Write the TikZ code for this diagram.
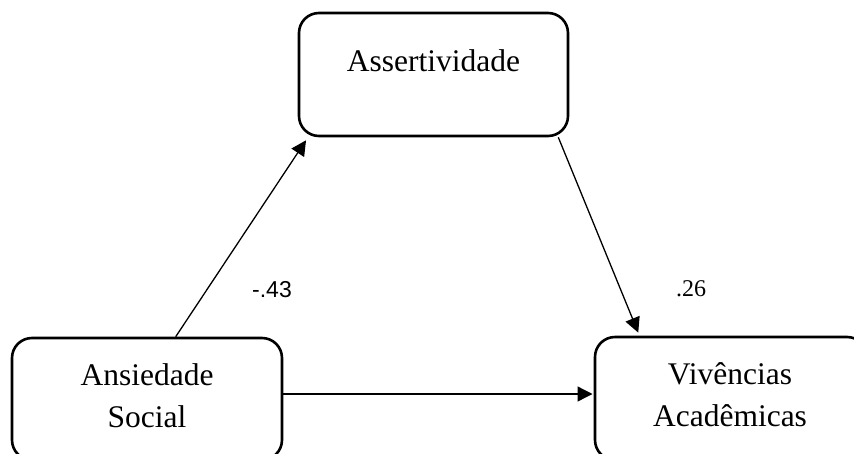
\documentclass[tikz,border=0pt]{standalone}
\usepackage{fontspec}
\setmainfont{Liberation Serif}
\newfontfamily\lblsans{Liberation Sans}
\usetikzlibrary{arrows.meta,calc}
\begin{document}
\begin{tikzpicture}[x=1pt,y=-1pt,
  box/.style={draw,line width=2.6pt,rounded corners=20pt,inner sep=0pt},
  boxtext/.style={font=\fontsize{31.5}{42}\selectfont,align=center,inner sep=0pt},
  conn/.style={line width=1.3pt,-{Triangle[length=15pt,width=15pt]},shorten >=1.2pt},
  coefsans/.style={font=\lblsans\fontsize{23}{28}\selectfont,inner sep=0pt,anchor=base},
  coefserif/.style={font=\fontsize{24}{29}\selectfont,inner sep=0pt,anchor=base}]
\useasboundingbox (0,0) rectangle (854,453);
\begin{scope}
\clip (0,0) rectangle (854,453);
\node[box,minimum width=269pt,minimum height=123pt] (asr) at (433.5,74.5) {};
\node[box,minimum width=270pt,minimum height=122pt] (ans) at (147,399) {};
\node[box,minimum width=272pt,minimum height=123pt] (viv) at (731,398.5) {};
\end{scope}
\node[boxtext,anchor=base] (asrt) at (433.5,71) {Assertividade};
\node[boxtext,anchor=north] (anst) at (147,363) {Ansiedade\\Social};
\node[boxtext,anchor=north] (vivt) at (730,362) {Vivências\\Acadêmicas};
\draw[conn] ($(ans.north west)+(165,0)$) -- ($(asr.south west)+(9,2)$);
\draw[conn] ($(asr.south east)+(-11,0)$) -- ($(viv.north west)+(45,-2)$);
\draw[conn] ($(ans.east)+(0,-5)$) -- ($(viv.west)+(0,-4.5)$);
\node[coefsans] (c1) at (272,297) {-.43};
\node[coefserif] (c2) at (691,296) {.26};
\end{tikzpicture}
\end{document}
